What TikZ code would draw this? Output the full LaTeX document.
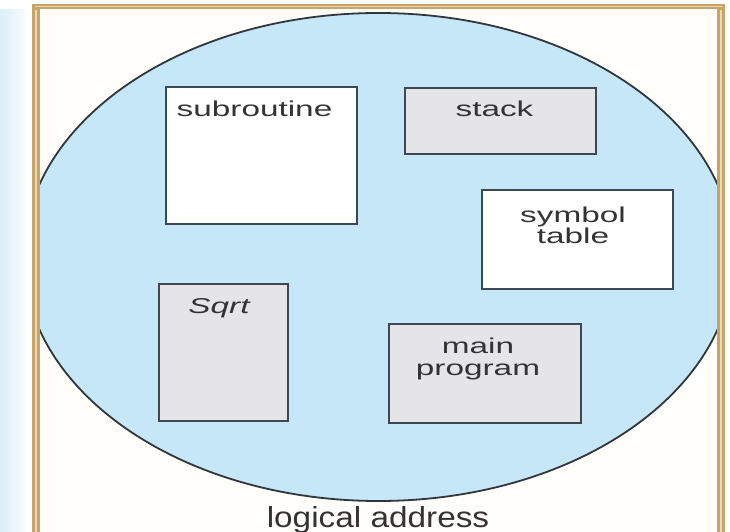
\documentclass[tikz,border=0pt]{standalone}
\usepackage{fontspec}
\setmainfont{Liberation Sans}
\usepackage{graphicx}
\usetikzlibrary{calc}
\definecolor{stripblue}{HTML}{DCEEF7}
\definecolor{cream}{HTML}{FFFEFA}
\definecolor{frametan}{HTML}{C9A469}
\definecolor{framelight}{HTML}{EAD7B4}
\definecolor{ellblue}{HTML}{C6E7F7}
\definecolor{ellline}{HTML}{30363B}
\definecolor{boxline}{HTML}{3D4852}
\definecolor{boxgray}{HTML}{E5E5E9}
\definecolor{txtgray}{HTML}{333333}
\tikzset{
  segbox/.style={draw=boxline, line width=2.2pt, rectangle, inner sep=0pt, outer sep=0pt},
  whitebox/.style={segbox, fill=white},
  graybox/.style={segbox, fill=boxgray},
  lbl/.style={font=\fontsize{21.5}{22}\selectfont, text=txtgray, inner sep=0pt, anchor=base},
  biglbl/.style={font=\fontsize{29}{30}\selectfont, text=txtgray, inner sep=0pt, anchor=base}
}
\begin{document}
\begin{tikzpicture}[x=1pt,y=-1pt]
\useasboundingbox (0,0) rectangle (730,532);
\fill[white] (0,0) rectangle (730,532);
% left pale strip
\shade[left color=stripblue, right color=white] (0,10) rectangle (31,532);
% inside of the frame
\fill[cream] (40,9) rectangle (717,532);
% segment ellipse, clipped by the frame
\begin{scope}
  \clip (40,9) rectangle (717,532);
  \draw[fill=ellblue, draw=ellline, line width=1.8pt] (378.5,257) ellipse [x radius=355, y radius=244];
\end{scope}
% frame
\fill[frametan] (32,4) rectangle (725,9);
\fill[frametan] (32,4) rectangle (40,532);
\fill[frametan] (717,4) rectangle (725,532);
\fill[framelight] (35,10) rectangle (37,532);
\fill[framelight] (720,10) rectangle (722,532);
\fill[framelight] (35,6) rectangle (722,7.5);
% boxes
\node[whitebox, minimum width=191pt, minimum height=137pt] (sub) at (261.5,155.5) {};
\node[graybox, minimum width=191pt, minimum height=66pt] (stk) at (500.5,121) {};
\node[whitebox, minimum width=191pt, minimum height=99pt] (sym) at (577.5,239.5) {};
\node[graybox, minimum width=129pt, minimum height=137pt] (sqr) at (223.5,352.5) {};
\node[graybox, minimum width=192pt, minimum height=99pt] (mainp) at (485,373.5) {};
% labels
\node[lbl] (subt) at ($(sub.north)+(-7,30)$) {\scalebox{1.55}[1]{subroutine}};
\node[lbl] (stkt) at ($(stk.north)+(-6,29)$) {\scalebox{1.55}[1]{stack}};
\node[lbl] (symt1) at ($(sym.north)+(-4.5,32)$) {\scalebox{1.55}[1]{symbol}};
\node[lbl] (symt2) at ($(sym.north)+(-4.5,53)$) {\scalebox{1.55}[1]{table}};
\node[lbl] (sqrt) at ($(sqr.north)+(-4.5,29)$) {\scalebox{1.55}[1]{\itshape Sqrt}};
\node[lbl] (mt1) at ($(mainp.north)+(-7,29)$) {\scalebox{1.55}[1]{main}};
\node[lbl] (mt2) at ($(mainp.north)+(-7,51)$) {\scalebox{1.55}[1]{program}};
\node[biglbl] (logaddr) at (378,527) {\scalebox{1.15}[1]{logical address}};
\end{tikzpicture}
\end{document}
